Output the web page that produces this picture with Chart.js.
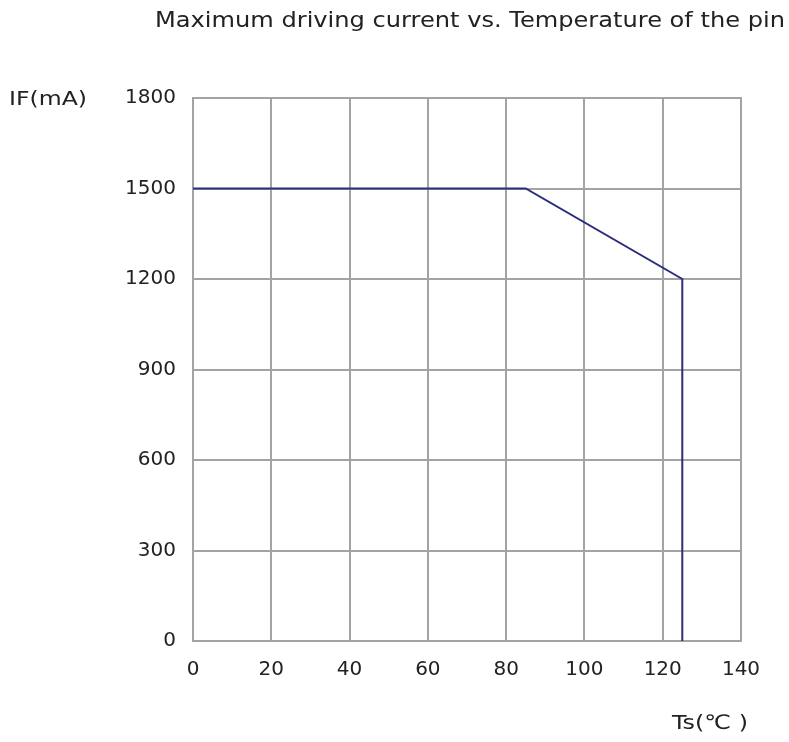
<!DOCTYPE html>
<html>
<head>
<meta charset="utf-8">
<script src="https://cdn.jsdelivr.net/npm/chart.js@4/dist/chart.umd.min.js"></script>
<style>
  html, body { margin: 0; padding: 0; background: #fff; }
  #wrap { position: relative; width: 789px; height: 742px; }
</style>
</head>
<body>
<div id="wrap"><canvas id="c" width="789" height="742"></canvas></div>
<script>
const chartTitle = "Maximum driving current vs. Temperature of the pin";
const yAxisLabel = "IF(mA)";
const xAxisLabel = "Ts(\u2103 )";
const temperatures = [0, 85, 125, 125];
const currents = [1500, 1500, 1200, 0];
const xTickValues = [0, 20, 40, 60, 80, 100, 120, 140];
const yTickValues = [0, 300, 600, 900, 1200, 1500, 1800];

const points = temperatures.map((t, i) => ({ x: t, y: currents[i] }));
const tickFont = { family: "DejaVu Sans", size: 20 };
const gridColor = "#a3a3a3";

function drawStretched(ctx, text, x, y, targetWidth) {
  const w = ctx.measureText(text).width;
  const s = targetWidth / w;
  ctx.save();
  ctx.translate(x, y);
  ctx.scale(s, 1);
  ctx.fillText(text, 0, 0);
  ctx.restore();
}

const textPlugin = {
  id: "texts",
  afterDraw(chart) {
    const ctx = chart.ctx;
    const a = chart.chartArea;
    ctx.save();
    ctx.fillStyle = "#222";
    ctx.textBaseline = "alphabetic";
    ctx.textAlign = "left";
    ctx.font = "22px 'DejaVu Sans'";
    drawStretched(ctx, chartTitle, 155, 27, 630);
    ctx.font = "20px 'DejaVu Sans'";
    drawStretched(ctx, yAxisLabel, 9, 105, 78);
    drawStretched(ctx, xAxisLabel, 672, 729, 76);
    ctx.restore();
  }
};

new Chart(document.getElementById("c"), {
  type: "scatter",
  data: {
    datasets: [{
      data: points,
      showLine: true,
      borderColor: "#2c2e7a",
      borderWidth: 2,
      pointRadius: 0,
      fill: false,
      tension: 0
    }]
  },
  options: {
    responsive: false,
    animation: false,
    layout: { padding: { left: 0, right: 48, top: 98, bottom: 0 } },
    plugins: { legend: { display: false }, tooltip: { enabled: false }, title: { display: false } },
    scales: {
      x: {
        type: "linear",
        min: 0, max: 140,
        afterBuildTicks(scale) { scale.ticks = xTickValues.map(v => ({ value: v })); },
        afterFit(scale) { scale.height = 101; },
        grid: { color: gridColor, lineWidth: 2, drawTicks: false },
        border: { color: gridColor, width: 2 },
        ticks: { color: "#222", font: tickFont, padding: 17, maxRotation: 0, callback: v => String(v) }
      },
      y: {
        type: "linear",
        min: 0, max: 1800,
        afterBuildTicks(scale) { scale.ticks = yTickValues.map(v => ({ value: v })); },
        afterFit(scale) { scale.width = 193; },
        grid: { color: gridColor, lineWidth: 2, drawTicks: false },
        border: { color: gridColor, width: 2 },
        ticks: { color: "#222", font: tickFont, padding: 17, callback: v => String(v) }
      }
    }
  },
  plugins: [textPlugin, {
    id: "frame",
    beforeDatasetsDraw(chart) {
      const ctx = chart.ctx, a = chart.chartArea;
      ctx.save();
      ctx.strokeStyle = gridColor;
      ctx.lineWidth = 2;
      ctx.strokeRect(a.left, a.top, a.right - a.left, a.bottom - a.top);
      ctx.restore();
    }
  }]
});
</script>
</body>
</html>
